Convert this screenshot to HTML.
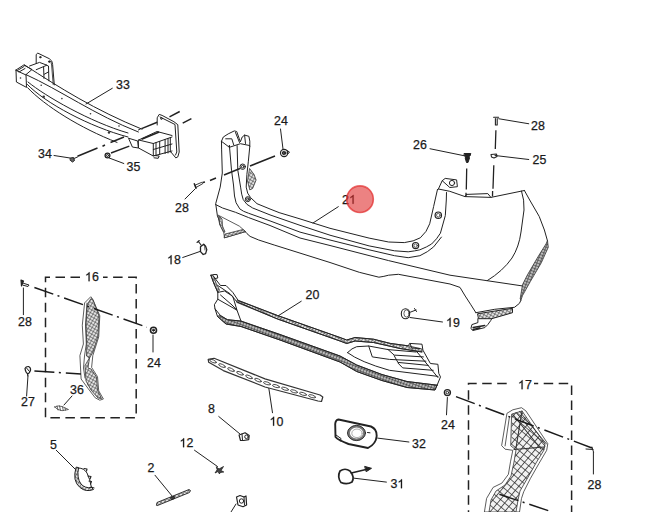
<!DOCTYPE html>
<html><head><meta charset="utf-8">
<style>
html,body{margin:0;padding:0;background:#fff;width:657px;height:512px;overflow:hidden}
svg{display:block}
text{font-family:"Liberation Sans",sans-serif;font-size:12.4px;fill:#1a1a1a;stroke:#1a1a1a;stroke-width:0.25}
.l{fill:none;stroke:#222;stroke-width:1;stroke-linecap:round;stroke-linejoin:round}
.t{fill:none;stroke:#333;stroke-width:0.8;stroke-linecap:round;stroke-linejoin:round}
.k{fill:none;stroke:#222;stroke-width:1.5;stroke-linecap:butt}
.dd{fill:none;stroke:#1a1a1a;stroke-width:1.5;stroke-dasharray:20 4.5 2 5}
.box{fill:none;stroke:#222;stroke-width:1.5;stroke-dasharray:9.5 5.5}
.h{fill:#777;stroke:#222;stroke-width:0.8}
.h1{fill:none;stroke:none}
</style></head>
<body>
<svg width="657" height="512" viewBox="0 0 657 512">
<defs>
<path id="one" d="M763 0 H583 V1147 Q518 1085 412 1023 T223 930 V1104 Q375 1175 489 1276 T650 1472 H763 Z" fill="#1a1a1a" stroke="#1a1a1a" stroke-width="41"/>
<pattern id="lat" width="5.5" height="5.5" patternUnits="userSpaceOnUse" patternTransform="rotate(40)">
<rect width="5.5" height="5.5" fill="#f2f2f2"/>
<path d="M0 0 L5.5 0 M0 0 L0 5.5" stroke="#2a2a2a" stroke-width="1.5"/>
</pattern>
<pattern id="lat2" width="3" height="3" patternUnits="userSpaceOnUse" patternTransform="rotate(30)">
<rect width="3" height="3" fill="#e4e4e4"/>
<path d="M0 0 L3 0 M0 0 L0 3" stroke="#333" stroke-width="1"/>
</pattern>
<pattern id="lat3" width="3" height="3" patternUnits="userSpaceOnUse" patternTransform="rotate(20)">
<rect width="3" height="3" fill="#bbb"/>
<path d="M0 0 L3 0 M0 0 L0 3" stroke="#222" stroke-width="1"/>
</pattern>
<pattern id="hat" width="2.5" height="2.5" patternUnits="userSpaceOnUse" patternTransform="rotate(45)">
<rect width="2.5" height="2.5" fill="#fff"/>
<path d="M0 0 L0 2.5" stroke="#444" stroke-width="0.9"/>
</pattern>
</defs>
<!--LABELS-->
<g transform="translate(0.5,-0.8)">
<text x="115.5" y="89.5">33</text>
<text x="37.5" y="159">34</text>
<text x="126" y="172">35</text>
<text x="273.5" y="125.5">24</text>
<text x="174.5" y="212.7">28</text>
<text x="341.6" y="204.6">2<tspan class="h1">1</tspan></text>
<text x="412.5" y="150">26</text>
<text x="530.5" y="131">28</text>
<text x="532" y="165">25</text>
<text x="166.5" y="265"><tspan class="h1">1</tspan>8</text>
<text x="84.5" y="282"><tspan class="h1">1</tspan>6</text>
<text x="17.5" y="327">28</text>
<text x="146.5" y="368">24</text>
<text x="20.5" y="407">27</text>
<text x="69.5" y="394.5">36</text>
<text x="305" y="299.5">20</text>
<text x="445.5" y="327.5"><tspan class="h1">1</tspan>9</text>
<text x="517.5" y="390"><tspan class="h1">1</tspan>7</text>
<text x="440.5" y="429.5">24</text>
<text x="587" y="490">28</text>
<text x="207.5" y="413.5">8</text>
<text x="269" y="426.5"><tspan class="h1">1</tspan>0</text>
<text x="179" y="448"><tspan class="h1">1</tspan>2</text>
<text x="49.5" y="449.5">5</text>
<text x="147" y="473">2</text>
<text x="411.5" y="449">32</text>
<text x="390" y="489">3<tspan class="h1">1</tspan></text>
<use href="#one" transform="translate(348.50 204.6) scale(0.006055 -0.006055)"/>
<use href="#one" transform="translate(166.50 265.0) scale(0.006055 -0.006055)"/>
<use href="#one" transform="translate(84.50 282.0) scale(0.006055 -0.006055)"/>
<use href="#one" transform="translate(445.50 327.5) scale(0.006055 -0.006055)"/>
<use href="#one" transform="translate(517.50 390.0) scale(0.006055 -0.006055)"/>
<use href="#one" transform="translate(269.00 426.5) scale(0.006055 -0.006055)"/>
<use href="#one" transform="translate(179.00 448.0) scale(0.006055 -0.006055)"/>
<use href="#one" transform="translate(396.90 489.0) scale(0.006055 -0.006055)"/>
</g>
<!--LEADERS-->
<g class="l">
<path d="M112.3 88.3 L86 104"/>
<path d="M54 155.5 L70 158"/>
<path d="M109.2 158 L123.8 163.5"/>
<path d="M280.5 129 L283 149"/>
<path d="M195 189 L185 199"/>
<path d="M338.3 206.7 L313 223"/>
<path d="M430 148.75 L465.5 156"/>
<path d="M498.75 118.75 L528.75 123.75"/>
<path d="M495 155.5 L528.75 159.5"/>
<path d="M182.7 257.5 L200.5 251.3"/>
<path d="M23.4 288 L23.4 314.7"/>
<path d="M153 335 L153 352"/>
<path d="M28 375.6 L26.6 396"/>
<path d="M72 396 L64 405"/>
<path d="M301.25 301.25 L277.5 316.25"/>
<path d="M410 317.5 L442.5 322"/>
<path d="M447.4 397.5 L446.5 414.8"/>
<path d="M593.4 452.4 L593.4 474"/>
<path d="M218.75 416.5 L240 434"/>
<path d="M268.75 387.75 L272.5 412.75"/>
<path d="M194.5 450.25 L217.5 466.5"/>
<path d="M56.25 450.25 L76.25 470.25"/>
<path d="M155 475.25 L172.5 496.5"/>
<path d="M377.6 438.1 L408.9 442"/>
<path d="M354.2 478.2 L386.4 482.1"/>
<path d="M236 504 L231 512"/>
</g>
<!--PARTS-->
<!-- 33 beam -->
<g class="l">
<!-- left flange -->
<path d="M36.2 63.6 L36.2 54.5 L37.8 53.1 L49.3 58.7 L51.8 61.1 L52.6 64.4 L54.3 84.9"/>
<path d="M51 62 L51.6 65 L53.2 84.5" stroke-width="0.8"/>
<path d="M29.6 66 L39.5 62.4 L46.9 65.2 L36.2 69.7 M43.6 67.2 L44 78.4 M48.5 66.3 L48.9 80.8 M44.2 74.3 L48.7 71.8 M46.9 65.2 L48.5 66.3"/>
<circle cx="40.3" cy="57.2" r="0.7" fill="#333"/><circle cx="49.3" cy="61.6" r="0.8" fill="#333"/>
<!-- left end box -->
<path d="M16 70 L23.8 65 L32 69.5 L26 74.6 Z"/>
<path d="M16 70 L16.4 82 L26.5 87.4 L26 74.6"/>
<path d="M17.5 70.5 L24 66.5 M19 72 L25 68.5"/>
<!-- beam long lines -->
<path d="M24.3 64.8 C60 88 95 110 142 129.2"/>
<path d="M26 74.6 C60 90 95 115 138.4 132"/>
<path d="M28 82 C45 96 90 122 128 133"/>
<path d="M27.4 84.5 C45 103 90 127 128 137"/>
<path d="M27.6 87.7 C45 106 80 128 117 142.4"/>
<!-- holes on beam -->
</g>
<g fill="#333">
<circle cx="20.5" cy="78" r="0.8"/><circle cx="41.2" cy="85.2" r="0.8"/><circle cx="61.9" cy="98.6" r="0.8"/><circle cx="90.5" cy="113.8" r="0.8"/><circle cx="119" cy="126" r="0.8"/>
<circle cx="43.7" cy="96.8" r="1.3"/><circle cx="109" cy="132.5" r="1.2"/>
</g>
<g class="l">
<!-- right end box -->
<path d="M138.4 130 L141 128.6 M138.7 140 L157 131.5 L172 135.5"/>
<path d="M138.7 140 L153.3 143.5 L153.3 156 L138.7 148.1 Z"/>
<path d="M153.3 143.5 L172 137 M153.3 156 L172 151"/>
<path d="M156 142.5 L156 155.5 M159.7 141.5 L159.7 154.5 M165.1 139.5 L165.1 153.5 M168 138.5 L168 153 M170.3 138 L170.3 152"/>
<path d="M153.3 149.5 L172 144"/>
<path d="M128.9 138.3 L137.7 141 L138.5 148 L132.8 147.1 Z"/>
<path d="M154.3 155.5 L159.2 156 L158.2 158.3 L154 157.8"/>
<!-- right flange -->
<path d="M157.2 125 L157.2 117.8 L159.2 114.4 L162.1 115.4 L173.9 121.7 L177.8 124.7 L179.2 152 L177.8 156.9 L175.8 157.9 L170.9 152"/>
<path d="M160 117 L175 124.5 L176.8 152 L175.5 155"/>
<circle cx="161.5" cy="118.5" r="0.9"/>
</g>
<!-- dashed / fastener lines for beam -->
<g class="k">
<path d="M169.5 116.8 L179.7 111.5 M182.7 123.2 L191.4 118.7"/>
<path d="M141.6 128.6 L157.2 122.2 M141.6 139.3 L159.2 132"/>
<path d="M111 153 L129.3 146.1"/>
<path d="M77.5 156.25 L97.5 148 M102.5 146.25 L105 145 M110.5 142.5 L124 137"/>
</g>
<!-- 21 bumper -->
<g class="l">
<!-- left bracket -->
<path d="M221.5 141.2 L223.3 137 L228.2 133.9 L234.3 130.9 L236.7 131.5 L239.1 138.2 L240.4 141.8 L242.2 137 L244.6 135.1 L248.9 136.3 L249.8 141.2 L249.8 146.3"/>
<path d="M222.1 141.8 L229.4 147.3 L240.4 143.7 L249.5 145.5 M225.7 138.8 L231.8 138.8 L233.7 144.8 M235.5 132.5 L239.5 142.5 M244.6 135.1 L245.5 143.5 M229.4 145.6 L229.4 147.3"/>
<path d="M221.5 141.2 L221.6 149.1 L222.3 173 L220.2 187.1 L215.7 203.7 L217.4 215.8 L220.9 224.4 L225.2 232.1"/>
<!-- long lines -->
<path d="M249.8 146.3 L248.3 161.8 L246.9 174.4 L246.2 187.1 Q247 194 250.5 197.5 L257 203.7 L270 209 L279.1 212.6 L300 218.9 L330 228.3 L369.1 238.1 L388.6 242 L404.3 242.6 Q414 241.5 420.3 237.8 Q427 232 429.7 223.75 L433.6 206.6 L437.5 189.4"/>
<path d="M237.1 145.6 L237.8 170.2 L240.6 187.1 Q241.5 195 243.2 199.5 Q246 205 252.7 208 L270 214.9 L300 225.3 L330 235.2 L369.1 245.9 L394.5 250.8 L408.2 251.8 Q415 251 419.9 249.8 Q427 247 431.6 244 Q437 239 440.4 233.2 L445.3 215.6 L446.3 200 L446.5 192.5"/>
<path d="M229.4 145.6 L231.5 170.2 L233.5 185 L234.5 196 Q235 203 239.8 208.9 Q243 211.5 248.4 213.2 L270 220.9 L300 232.1 L330 240 L369.1 249.8 L394.5 255.7 L408.2 257.7 L419.9 255.7 Q428 252 433.6 246.9 L441.4 237.1"/>
<path d="M215.7 204.6 L222.6 208 L235.5 212.3 L248.4 217.5 L270 225.5 L300 238 L330 245.5 L388.6 260.6 L450 275.2 L522.8 286"/>
<path d="M244.1 230.4 Q247 234 250.1 236.4 L258.7 240 L274.2 245 L330 262.5 L359.3 272.3 L378.9 277.2 Q384 276.5 388.6 275.2 L398.4 274.3 L450 284 L460 287.4 Q465 296 470.9 304.8 L475.9 312.7"/>
<!-- right part -->
<path d="M438.4 189 L449.8 191.3 L465 196.6 L490.9 197.4 L524.4 190.5"/>
<path d="M442.2 180.7 L445.2 178.4 L456.6 179.9 L457.4 186.7 L449.8 187.5 L442.2 180.7 L438.4 189"/>
<path d="M466.5 194.4 L487.8 193.6 L490.9 197.4 M466.5 194.4 L465 196.6"/>
<path d="M524.4 190.5 L529.7 200 L539.2 216.4 L544.4 230 L547.5 240.9"/>
<path d="M521.5 191 Q524.5 200 524 210 L521 232 Q519 247 512 258 Q503 271 487.3 280.6"/>
<path d="M520.9 300.3 L519.4 303.4 L514.5 307.3 L494.7 309.3 L475.9 312.7"/>
<path d="M477.9 313.7 L512.5 308.3 L512.5 312.7 L491.7 318.7 L478.9 318.7 Z" fill="url(#lat2)"/>
<path d="M477.9 318.7 L477.9 322.6 L471.9 324.6 L470.9 328.6 L472.9 330.5 L484.8 327.6 L487.8 324.6 L490.7 320.6 L491.7 318.7"/>
<path d="M473 327.5 L484.8 325.5 M473 329.5 L480 328" stroke-width="1.3"/>
</g>
<g class="l">
<circle cx="452" cy="183" r="2.6"/>
<circle cx="438.3" cy="215.2" r="3.2" stroke-width="1.2"/><circle cx="438.3" cy="215.2" r="1.8" stroke-width="0.7"/>
<circle cx="415.6" cy="245.6" r="3.1" stroke-width="1.2"/><circle cx="415.6" cy="245.6" r="1.7" stroke-width="0.7"/>
<circle cx="242.7" cy="166.7" r="2.7"/><circle cx="242.7" cy="166.7" r="1.3"/>
<circle cx="247.8" cy="199.2" r="2.5"/><circle cx="247.8" cy="199.2" r="1.2"/>
</g>
<!-- hatched vents -->
<g class="t">
<path d="M249.8 168.8 L254 174.4 L256.1 180 L252.6 188.5 L249.8 189.9 L247.6 181.4 Z" fill="url(#lat2)"/>
<path d="M218.3 215.2 L239.3 226.1 L245.6 231.6 L224.5 237.8 L223.7 232.3 L219.8 224.5 Z" fill="#fff"/>
<path d="M224.5 237.8 L245.6 231.6 L243 229.5 L225.3 234 Z" fill="url(#lat2)"/>
<path d="M219.5 216.5 L222 219 L222.5 226 L225 232 L223.7 232.3 L219.8 224.5 Z" fill="url(#lat2)"/>
<path d="M547.5 240.9 L548.3 247.2 L541.3 262.8 L530.3 281.6 L522.5 295.6 L520.9 300.3 L520.2 298.8 L522.5 284.7 L527.2 275.3 L538.1 256.6 L545.9 244.1 Z" fill="url(#lat3)"/>
</g>
<!-- dashed fastener lines bumper -->
<g class="k">
<path d="M275 156 L250 166 M240 168.5 L224 175 M216 178 L210 180.5 M205 182 L202.5 182.5"/>
<path d="M466.7 168.4 L466.3 189.5 M466 192.7 L466 196.6" stroke-width="1.3"/>
<path d="M495.9 130.2 L495.3 148.9 M493.8 165.3 L493 188.8 M492.6 191 L492.5 196.6" stroke-width="1.3"/>
</g>
<g class="l">
<circle cx="284.1" cy="153" r="3.6" stroke-width="1.2"/><circle cx="284.1" cy="153" r="1.8"/><circle cx="284.1" cy="153" r="0.7" fill="#222"/>
<path d="M287 150.5 L289.5 152 L287.8 154"/>
<path d="M194.3 183.8 L196 188.2" stroke-width="1.5"/><path d="M195.5 185 L201.8 182.3 L202.8 183.6 L196.5 187.2 Z" stroke-width="0.9"/>
<path d="M464.4 153.5 L470.8 153.5 L470 156 L468.8 156.5 L469.5 158 L468 162.5 L466.5 162.5 L465.2 158 L465.8 156.5 L464.6 156 Z" fill="#222"/>
<path d="M495.4 118.5 L495.4 125 L497.2 125 L497.2 118.5 M493.6 117.3 L498.6 117.3" stroke-width="1.1"/>
<path d="M491 154.5 L496.5 154 L497 156.5 L494 158 L491.5 157 Z" stroke-width="1.1"/>
</g>
<!-- 20 valance -->
<g class="t">
<path d="M237.5 300 L277.5 315.5 L340 337.5 L346.7 340 L355.1 337.5 L373.5 339.2 L390.2 343.4 L408.6 345.9 L422 349 L422 352 L400 348.5 L373.5 342.5 L355.1 341 L346.7 343.5 L340 341 L277.5 319 L237 302.5 Z" fill="url(#lat2)"/>
<path d="M220.5 315.6 L227.4 319.7 L241 321.1 L280 334.5 L340 356 L356.7 365 L381.9 374.5 L407 381.5 L437.1 385.2 L435 390 L407 387.5 L381.9 380.5 L356.7 371.5 L340 362 L280 340 L241 326.5 L226 324 L217.5 316.5 Z" fill="url(#lat3)"/>
<path d="M210.9 275.3 L213.7 283 L217.8 292.4 L219.5 290 L216 283 L213.5 276 Z" fill="url(#lat2)"/>
</g>
<g class="l">
<path d="M210.9 275.3 L214 274.5 L217.1 274.6 L217.8 278 L215 278.5 M213.7 276.6 L217 281 L220.5 285.5 L226 285.5 L232.8 292.4 L238.3 300.6 L277.5 315.5 L340 337.5 L346.7 340 L355.1 337.5 L373.5 339.2 L390.2 343.4 L408.6 345.9 L409.5 343.4 L422 344.2 L422.9 350.1 L430.4 363.5 L437.9 364.3 L438.8 373.5 L440.5 376.9 L437.1 385.2"/>
<path d="M217.8 285.5 L230 293.7 L237 301.9 L277.5 319 L340 341 L346.7 343.5 L355.1 341 L373.5 342.5 L400 348.5 L422 352"/>
<path d="M210.9 275.3 L213.7 283 L217.8 292.4 L224.6 291 L232.8 296.4 L237 310.2 L232 305 L220.5 295"/>
<path d="M217.8 292.4 L217.8 299.2 L214.4 304.7 L215 308.8 L220.5 315.6 L227.4 319.7 L241 321.1 L280 334.5 L340 356 L356.7 365 L381.9 374.5 L407 381.5 L437.1 385.2"/>
<path d="M215 308.8 L217.5 316.5 L226 324 L241 326.5 L280 340 L340 362 L356.7 371.5 L381.9 380.5 L407 387.5 L435 390 L437.1 385.2"/>
<path d="M217.8 299.2 L228 305 L237 310.2 L241 321.1"/>
<!-- grille -->
<path d="M347.5 352.6 Q352 348 356.7 346.7 L368.7 346 L388.1 349.6 L416.1 352"/>
<path d="M368.7 346 L372.3 356.9 L389.4 359.4 L425.9 361.2"/>
<path d="M388.1 349.6 L394.2 355.1 L423.4 356.9"/>
<path d="M394.2 355.7 L397.9 362.4 L428.3 365.4"/>
<path d="M397.9 363 L402.7 367.9 L433.2 370.3"/>
<path d="M347.5 352.6 Q360 362 389.4 370.3 L438 376.4"/>
<path d="M416.1 350.8 L438 377.6"/>
<path d="M410.5 344.5 L411.5 348 L420 348.5"/>
</g>
<!-- 10 strip -->
<g class="t" stroke="#222" stroke-width="1.3">
<path d="M208.2 359.3 L214.1 358.3 L265 378.9 L320 395 L322.8 397 L321.5 401.5 L318 401 L265 387 L223.3 370.6 L208.7 362.3 Z" fill="#fff" stroke-width="1.2"/>
<ellipse cx="213" cy="361.2" rx="3.6" ry="1.3" transform="rotate(24 213 361.2)"/><ellipse cx="222" cy="365.6" rx="3.6" ry="1.3" transform="rotate(24 222 365.6)"/><ellipse cx="231" cy="369.6" rx="3.6" ry="1.3" transform="rotate(24 231 369.6)"/><ellipse cx="240" cy="373.3" rx="3.6" ry="1.3" transform="rotate(24 240 373.3)"/><ellipse cx="249" cy="376.9" rx="3.6" ry="1.3" transform="rotate(24 249 376.9)"/><ellipse cx="258" cy="380.2" rx="3.6" ry="1.3" transform="rotate(24 258 380.2)"/><ellipse cx="267" cy="383.3" rx="3.6" ry="1.3" transform="rotate(17 267 383.3)"/><ellipse cx="276" cy="386.1" rx="3.6" ry="1.3" transform="rotate(17 276 386.1)"/><ellipse cx="285" cy="388.8" rx="3.6" ry="1.3" transform="rotate(17 285 388.8)"/><ellipse cx="294" cy="391.4" rx="3.6" ry="1.3" transform="rotate(17 294 391.4)"/><ellipse cx="303" cy="393.9" rx="3.6" ry="1.3" transform="rotate(17 303 393.9)"/><ellipse cx="312" cy="396.3" rx="3.6" ry="1.3" transform="rotate(17 312 396.3)"/>
</g>
<!-- 16 box -->
<path class="box" d="M80 277.2 L45.5 277.2 L45.5 417.8 L136.2 417.8 L136.2 277.2 L103 277.2"/>
<!-- 16 bracket -->
<g class="t">
<path d="M90.5 297 L84.6 302.9 L82.3 325.2 L83.4 344 L79.9 355.6 L81.1 379 L88.1 388.5 L95.2 397.8 L99.8 400.2 L103.4 399 L98.7 390.8 L97.5 376.7 L91.6 367.4 L92.8 355.6 L98.7 336.9 L99.8 315.8 L92.8 299.4 Z" fill="#fff"/>
<path d="M87.5 304 L91 298.5 L93 300 L99 316 L98 336 L93 352 L89.5 358 L86.5 356 L86.8 344 L86 325 Z" fill="url(#lat2)"/>
<path d="M87 303 L85.5 325 L86.3 344 L84.5 356 L83.5 368 L85 378" />
<path d="M87 369 L88 385"/>
<path d="M89.5 358 L88 368 L91 369 L96.5 377 L97.5 390 L101.5 398.5 L98 398 L91 390 L86 381 L85 366 Z" fill="url(#lat2)"/>
</g>
<!-- 17 box -->
<path class="box" d="M506.7 383.4 L468.5 383.4 L468.5 515 M571.6 515 L571.6 383.4 L534 383.4"/>
<!-- 17 bracket -->
<g class="t">
<path d="M507.3 413.1 L512.8 409.8 L521.5 407.7 L525.9 410.9 L547.8 443.7 L546.7 450.3 L539 463.4 L530.3 478.7 L523.7 491.8 L521.5 498.4 L519.5 512 L484.4 512 L486.6 498.4 L493.1 487.4 L501.9 483.1 L508.4 474.3 L510.6 461.2 L512.8 450.3 L505.1 449.2 L501.9 445.9 Z" fill="#fff"/>
<path d="M509.5 416.4 L505.1 445.9"/>
<path d="M512 414 L522 411 L545 444 L544 450 L536 463 L527 479 L520 491 L518 500 L516 512 L489 512 L491 500 L496 491 L505 485 L511 476 L514 462 L516 450 L511 446 Z" fill="url(#lat)"/>
<path d="M512.8 414.5 L541 449 M522 411 L516 448 M514 449.5 L544 447" stroke="#333" stroke-width="1.1"/>
<path d="M516 412.5 L545 446 M519.5 411.5 L546.5 444" stroke="#333" stroke-width="0.9"/>
</g>
<!-- dash-dot lines -->
<g class="dd">
<path d="M34.4 287.5 L146.9 327.2"/>
<path d="M34.4 371 L81 374"/>
<path d="M456 396.6 L592 448"/>
<path d="M499.4 494.3 L551.5 511.7"/>
</g>
<!-- small parts -->
<g class="l">
<!-- 28 left mid -->
<path d="M21 280 L23.5 281 L21.5 286 Z" fill="#222" stroke-width="1.2"/><path d="M23.5 283.3 L29 285 L28 286.5 L23 285.2"/>
<!-- 24 mid -->
<circle cx="153.5" cy="330.2" r="3" stroke-width="1.6"/><circle cx="153.5" cy="330.2" r="1" fill="#222"/>
<!-- 27 -->
<path d="M25 368.5 Q26 366.3 28.5 366.5 Q31 367.5 30.5 370.5 Q29.5 373 28 374 Q25.5 372.5 25 368.5 Z" stroke-width="1.2"/><path d="M26.5 368 L29.5 371.5 M27.5 374 L27.8 376"/>
<!-- 36 -->
<path d="M54.7 407 Q58 405 62 406.5 L68.5 409.5 L62 410.7 Q57 410 54.7 407 Z M57 406 L58 410 M59.5 405.8 L60.5 410.4 M62.5 406.8 L63.3 410.5 M65 408 L65.5 410.2" stroke-width="0.8" stroke="#444"/>
<!-- 18 -->
<path d="M200.5 246.7 L203.7 244.3 L205.6 246.2 L206.8 249.6 L205.6 253.6 L203.2 254.5 L200.5 251.6 Z" stroke-width="1.3"/><path d="M203.7 244.3 L204.7 246.5 L205 250" stroke-width="0.8"/><path d="M198.3 241.3 L201.2 245.3 M197 242.5 L199.3 240.5" stroke-width="1.1"/>
<!-- 19 -->
<ellipse cx="405.5" cy="313.75" rx="4.2" ry="5" stroke-width="1.1"/><ellipse cx="406.5" cy="313.5" rx="2.6" ry="3.6" stroke-width="0.7"/><path d="M409.5 312.5 L416 310 M414.5 308.5 L416.5 311.5"/>
<!-- 24 bottom right -->
<circle cx="447.4" cy="392.6" r="3" stroke-width="1.4"/><circle cx="447.4" cy="392.6" r="1.3"/>
<!-- 28 bottom right -->
<path d="M586 449 L593 449.5 M592 447 L593.5 452"/>
<!-- 8 -->
<path d="M239.1 435 L245.1 432.8 L249.2 435.5 L248.7 439.6 L243.7 440.5 L240.5 440.5 Z" stroke-width="1.2"/><circle cx="246.5" cy="436.8" r="1.8"/><path d="M242 434 L242.5 440"/>
<!-- 12 -->
<path d="M216.5 467 L219 469 L223.5 466.5 L221 470.5 L223.8 472 L220 472.5 L219.5 474 L218 471.5 L215 473 L217 470 Z" fill="#444" stroke-width="0.8"/>
<!-- bottom clip -->
<path d="M236.5 497 L240 495.5 L244 497 L246 496 L246.6 505 L243 506.7 L238 505 Z" stroke-width="1.2"/><circle cx="241.5" cy="501" r="2.2"/><path d="M244 497 L244.5 505"/>
<!-- 5 -->
<path d="M76 467.5 Q72 481 80 487.5 Q86 492.5 93.5 489.5 L91.5 487.5 Q85 488.5 81 484 Q76.5 478 78.5 468 Z" fill="url(#lat2)" stroke-width="1"/>
<path d="M78.5 468 Q84 468 87 473 Q90 479 91.5 487.5" stroke-width="1"/>
<path d="M84 468.5 L87 469 L86.5 471 M88 476 L91 476.5 L90 479 M89 481 L91.5 481.5 L90.5 484 M91 487 L94 488" stroke-width="1.1"/>
<!-- 2 -->
<path d="M156.5 505 L157 502.5 L189 489.5 L190.5 490.5 L189.5 492.5 L157.5 505.5 Z" fill="url(#lat2)" stroke-width="0.9"/>
<path d="M171 497.5 L174 496.3 L174.5 498.5 L171.5 499.5 Z" fill="#444"/>
<!-- 32 -->
<path d="M338.5 419.5 L371 426.5 Q377 429 376.7 436 Q376 444 368 448 L348.5 444 Q338 440 335.5 437 L335.2 424 Q335.5 420 338.5 419.5 Z" stroke-width="1.9"/>
<ellipse cx="356.5" cy="433" rx="7.8" ry="6.6" stroke="#777" stroke-width="2.4"/><ellipse cx="356.5" cy="433" rx="9" ry="7.6" stroke-width="0.9"/><ellipse cx="357" cy="433.3" rx="5.2" ry="4.3" stroke="#999" stroke-width="0.8"/><path d="M367.5 432.5 L370 432.8"/>
<path d="M336 435 L341 438.5 L340.5 441"/>
<!-- 31 -->
<path d="M340 471 Q345 467.5 350 471 Q355 477 352 482 Q347 485 341 482.5 Q337 477 340 471 Z" stroke-width="1.7"/>
<path d="M351.3 473 L366 469.5" stroke-width="1.6"/><path d="M365 466.5 L371.5 468.3 L366.5 471.5 Z" fill="#222" stroke-width="1"/>
</g>
<g class="l">
<path d="M70.5 158 L73.5 157.5 L74.5 160.5 L72.5 162 L70.5 160.5 Z" fill="#666"/><path d="M74 158.5 L77.5 157"/>
<circle cx="107.5" cy="155.5" r="2.4" stroke-width="1.3"/><circle cx="107.5" cy="155.5" r="1"/>
</g>
<circle cx="360" cy="199.2" r="13.3" fill="rgb(222,40,40)" fill-opacity="0.58" stroke="rgb(226,45,45)" stroke-opacity="0.72" stroke-width="1.6"/>
</svg>
</body></html>
